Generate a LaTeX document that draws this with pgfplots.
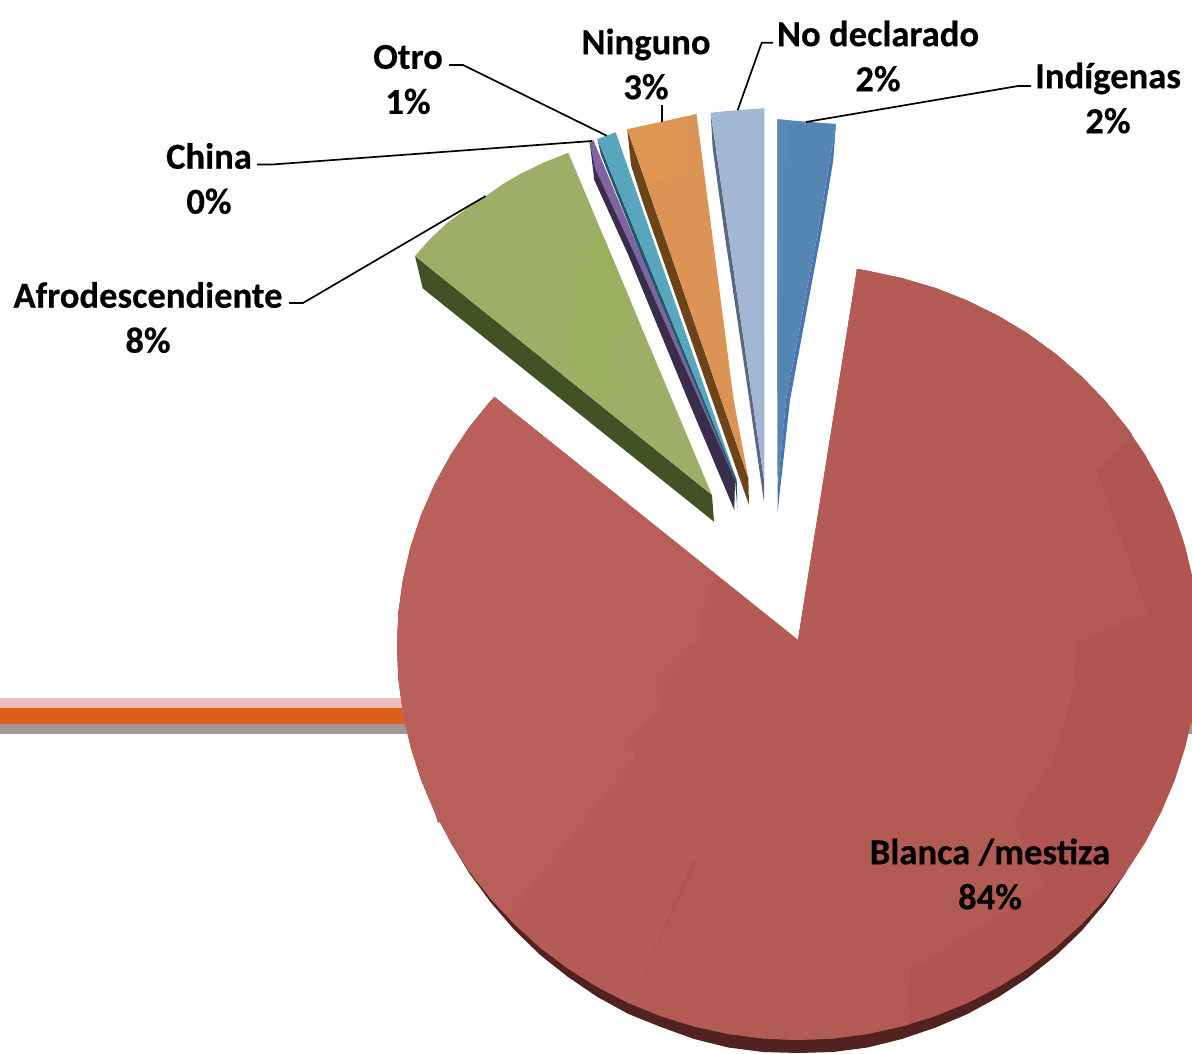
\documentclass[border=0pt]{standalone}
\usepackage{pgfplots}
\pgfplotsset{compat=1.18}
\usepackage{fontspec}
\setmainfont[BoldFeatures={FakeBold=0.4}]{Carlito}

% slice colours
\definecolor{redbase}{HTML}{B05552}
\definecolor{redup}{HTML}{B15B52}
\definecolor{redband}{HTML}{B35B53}
\definecolor{redmid}{HTML}{B45B56}
\definecolor{redl1}{HTML}{B65E57}
\definecolor{redl2}{HTML}{B85F59}
\definecolor{redl3}{HTML}{BA605C}
\definecolor{redside}{HTML}{51221F}
\definecolor{greentop}{HTML}{9EAE66}
\definecolor{greenin}{HTML}{9BB05F}
\definecolor{greenside}{HTML}{435225}
\definecolor{purptop}{HTML}{8064A2}
\definecolor{purpside}{HTML}{3A2D4B}
\definecolor{tealtop}{HTML}{57A6BC}
\definecolor{tealside}{HTML}{215967}
\definecolor{orangetop}{HTML}{DB9455}
\definecolor{orangeup}{HTML}{DF9653}
\definecolor{orangeside}{HTML}{6D4419}
\definecolor{ltbluetop}{HTML}{A3B6D4}
\definecolor{ltblueside}{HTML}{5A677F}
\definecolor{bluetop}{HTML}{5586B3}
\definecolor{blueleft}{HTML}{5787B8}
\definecolor{blueside}{HTML}{4A77AB}
\definecolor{barpink}{HTML}{EDBEB9}
\definecolor{barorange}{HTML}{DD5E1B}
\definecolor{bargrey}{HTML}{A39696}

\pgfplotsset{
  poly/.style={fill=#1,draw=none,no markers,forget plot},
  lead/.style={black,line width=1.7pt,no markers,forget plot,line join=round},
}

\begin{document}
\begin{tikzpicture}
\begin{axis}[
    scale only axis,
    width=1192pt,
    height=1053pt,
    xmin=0, xmax=1192,
    ymin=0, ymax=1053,
    y dir=reverse,
    hide axis,
    clip=true,
]
% bars behind the pie
\addplot[poly=barpink] coordinates {(0,698) (1192,698) (1192,708) (0,708)} --cycle;
\addplot[poly=barorange] coordinates {(0,708) (1192,708) (1192,724) (0,724)} --cycle;
\addplot[poly=bargrey] coordinates {(0,724) (1192,724) (1192,734) (0,734)} --cycle;

% Blanca /mestiza, side
\addplot[poly=redside] coordinates {(1126.5,871.6) (1105.2,903) (1081.5,931) (1055.8,955.6) (1028,977.6) (998.5,997) (967.5,1014) (935.1,1027.7) (901.8,1039) (867.6,1047.5) (833,1052) (798,1053) (763,1052) (728.4,1047.5) (694.2,1039) (660.9,1027) (628.5,1014) (597.5,997) (568,977) (540.2,955) (514.5,930) (490.8,902.5) (469.5,873.5) (450.7,842.5) (798,700)} --cycle;
% Blanca /mestiza, top
\addplot[poly=redbase] coordinates {(798,640) (857,269) (867.6,270.8) (901.8,278) (935.1,287.9) (967.5,300.6) (998.5,315.9) (1028,333.7) (1055.8,353.9) (1081.5,376.3) (1105.2,400.7) (1126.5,427) (1145.3,455) (1161.4,484.4) (1174.8,515) (1185.3,546.7) (1192.9,579) (1197.5,612) (1199,645) (1197.5,679.4) (1192.9,713.6) (1185.3,747.2) (1174.8,780.1) (1161.4,811.9) (1145.3,842.5) (1126.5,871.6) (1105.2,898.9) (1081.5,924.3) (1055.8,947.6) (1028,968.6) (998.5,987.1) (967.5,1003) (935.1,1016.2) (901.8,1026.5) (867.6,1034) (833,1038.5) (798,1040) (763,1038.5) (728.4,1034) (694.2,1026.5) (660.9,1016.2) (628.5,1003) (597.5,987.1) (568,968.6) (540.2,947.6) (514.5,924.3) (490.8,898.9) (469.5,871.6) (450.7,842.5) (434.6,811.9) (421.2,780.1) (410.7,747.2) (403.1,713.6) (398.5,679.4) (397,645) (398.5,612) (403.1,579) (410.7,546.7) (421.2,515) (434.6,484.4) (450.7,455) (469.5,427) (490.8,400.7) (494.5,397)} --cycle;
% shading facets, right side
\addplot[poly=redup] coordinates {(798,640) (857,269) (867.6,270.8) (901.8,278) (935.1,287.9) (967.5,300.6) (998.5,315.9) (1028,333.7) (1055.8,353.9) (1081.5,376.3) (1105.2,400.7) (1126.5,427) (1132,434) (1097,472) (1147,612) (1077,643) (1073,693) (1053,760) (1013,823) (1045,887) (910,970) (909,1024.5) (867.6,1034) (833,1038.5) (798,1040) (763,1038.5) (728.4,1034) (694.2,1026.5) (660.9,1016.2) (631,1004)} --cycle;
\addplot[poly=redband] coordinates {(901.7,280) (935.1,287.9) (967.5,300.6) (968,310) (941.7,392) (981.7,417) (933,500) (956.7,530) (928,567) (946.7,627) (913,660) (891.7,717) (900,760) (905,820) (845,831) (805,835) (751,785.6) (798,719) (845,637) (845,553) (868,460)} --cycle;
% shading facets, middle and left
\addplot[poly=redmid] coordinates {(798,640) (715,573.5) (699.7,620) (699.7,638) (679.7,653) (679.7,661) (654.7,684) (663,707) (628,742) (635.3,756.5) (511.3,910) (507,916) (514.5,924.3) (540.2,947.6) (568,968.6) (597.5,987.1) (628.5,1003) (631,1004) (691,864) (718,827) (751,785.6) (774.7,738) (798,719) (845,637) (845,553) (868,460) (901.7,280) (867.6,270.8) (857,269)} --cycle;
\addplot[poly=redl1] coordinates {(715,573.5) (699.7,620) (699.7,638) (679.7,653) (679.7,661) (654.7,684) (663,707) (628,742) (635.3,756.5) (511.3,910) (507,916) (490.8,898.9) (469.5,871.6) (450.7,842.5) (434.6,811.9) (421.2,780.1) (410.7,747.2) (403.1,713.6) (398.5,679.4) (397,645) (398.5,612) (403.1,579) (410.7,546.7) (421.2,515) (434.6,484.4) (450.7,455) (469.5,427) (490.8,400.7) (494.5,397)} --cycle;
\addplot[poly=redl2] coordinates {(628,503.7) (611,512) (568,582) (565,645) (521,678) (518,698) (458,736) (481,798) (438,823) (434.6,811.9) (421.2,780.1) (410.7,747.2) (403.1,713.6) (398.5,679.4) (397,645) (398.5,612) (403.1,579) (410.7,546.7) (421.2,515) (434.6,484.4) (450.7,455) (469.5,427) (490.8,400.7) (494.5,397)} --cycle;
\addplot[poly=redl3] coordinates {(564.7,454) (521,516) (498,620) (498,645) (439.7,678) (441,711) (408,735) (403.1,713.6) (398.5,679.4) (397,645) (398.5,612) (403.1,579) (410.7,546.7) (421.2,515) (434.6,484.4) (450.7,455) (469.5,427) (490.8,400.7) (494.5,397)} --cycle;

% Afrodescendiente
\addplot[poly=greenside] coordinates {(415,256) (422.7,288.3) (714,521.7) (712,495)} --cycle;
\addplot[poly=greentop] coordinates {(712,495) (415,256) (430,239) (447,223) (466,209) (486,196) (503,184) (520,174) (545,162) (568.3,152.7)} --cycle;
\addplot[poly=greenin] coordinates {(588.3,216.7) (590,260) (573.3,271.7) (576.7,316.7) (565,328.3) (570,366.7) (611.7,406.7) (606.7,376.7) (616.7,363.3) (611.7,336.7) (625,326.7) (630,300) (605,240)} --cycle;

% China
\addplot[poly=purpside] coordinates {(589.7,142.3) (594.3,180) (628.3,255) (688,400) (734.3,510) (735,480)} --cycle;
\addplot[poly=purptop] coordinates {(589.7,142.3) (593.3,140) (641,255) (701.7,400) (735,480) (699.3,400) (635,255) (595,168.3)} --cycle;

% Otro
\addplot[poly=tealside] coordinates {(597.3,139) (601,155) (641,255) (735,480) (737.3,508) (736.7,480)} --cycle;
\addplot[poly=tealtop] coordinates {(597.3,139) (615.7,132.3) (736.7,480)} --cycle;

% Ninguno
\addplot[poly=orangeside] coordinates {(627.3,129.3) (631,165) (642,200) (749,505) (748.3,478)} --cycle;
\addplot[poly=orangetop] coordinates {(627.3,129.3) (662.7,121.7) (696.5,114) (733.7,400) (748.3,478)} --cycle;
\addplot[poly=orangeup] coordinates {(627.3,129.3) (662.7,121.7) (686.7,116.2) (686.7,168) (648,187)} --cycle;

% No declarado
\addplot[poly=ltblueside] coordinates {(710.7,112.7) (712.7,148.3) (724,230) (749.3,400) (764,502) (764,480)} --cycle;
\addplot[poly=ltbluetop] coordinates {(710.7,112.7) (738,110) (764.3,108.3) (764.3,480) (764,480)} --cycle;

% Indigenas
\addplot[poly=blueside] coordinates {(836,124) (833.3,160) (821.7,230) (790,400) (777.5,513) (777.5,490) (786,400) (818.3,230)} --cycle;
\addplot[poly=bluetop] coordinates {(777.3,119.3) (806.7,121.7) (836,124) (818.3,230) (786,400) (777.5,490)} --cycle;
\addplot[poly=blueleft] coordinates {(777.3,119.3) (788,120.2) (785,200) (777.4,400)} --cycle;

% leader lines
\addplot[lead] coordinates {(806,122) (1018,86) (1031,86)};
\addplot[lead] coordinates {(737.7,110) (761.7,42.7) (773,42.7)};
\addplot[lead] coordinates {(661.7,121.7) (661.7,105)};
\addplot[lead] coordinates {(606.7,135.7) (463,65) (449,65)};
\addplot[lead] coordinates {(592,141) (272,164.5) (257,164.5)};
\addplot[lead] coordinates {(485.7,196) (303,303) (289,303)};

% labels
\tikzset{lab/.style={font=\fontsize{36.6}{45}\selectfont\bfseries,align=center,anchor=center,inner sep=0pt,text=black}}
\node[lab] at (axis cs:1108,98) {Indígenas\\2\%};
\node[lab] at (axis cs:878,56) {No declarado\\2\%};
\node[lab] at (axis cs:646,64) {Ninguno\\3\%};
\node[lab] at (axis cs:408,79.5) {Otro\\1\%};
\node[lab] at (axis cs:209,178.5) {China\\0\%};
\node[lab] at (axis cs:148,317.5) {Afrodescendiente\\8\%};
\node[lab] at (axis cs:990,874) {Blanca /mestiza\\84\%};
\end{axis}
\path (0,0) rectangle (1192pt,1053pt);
\end{tikzpicture}
\end{document}
